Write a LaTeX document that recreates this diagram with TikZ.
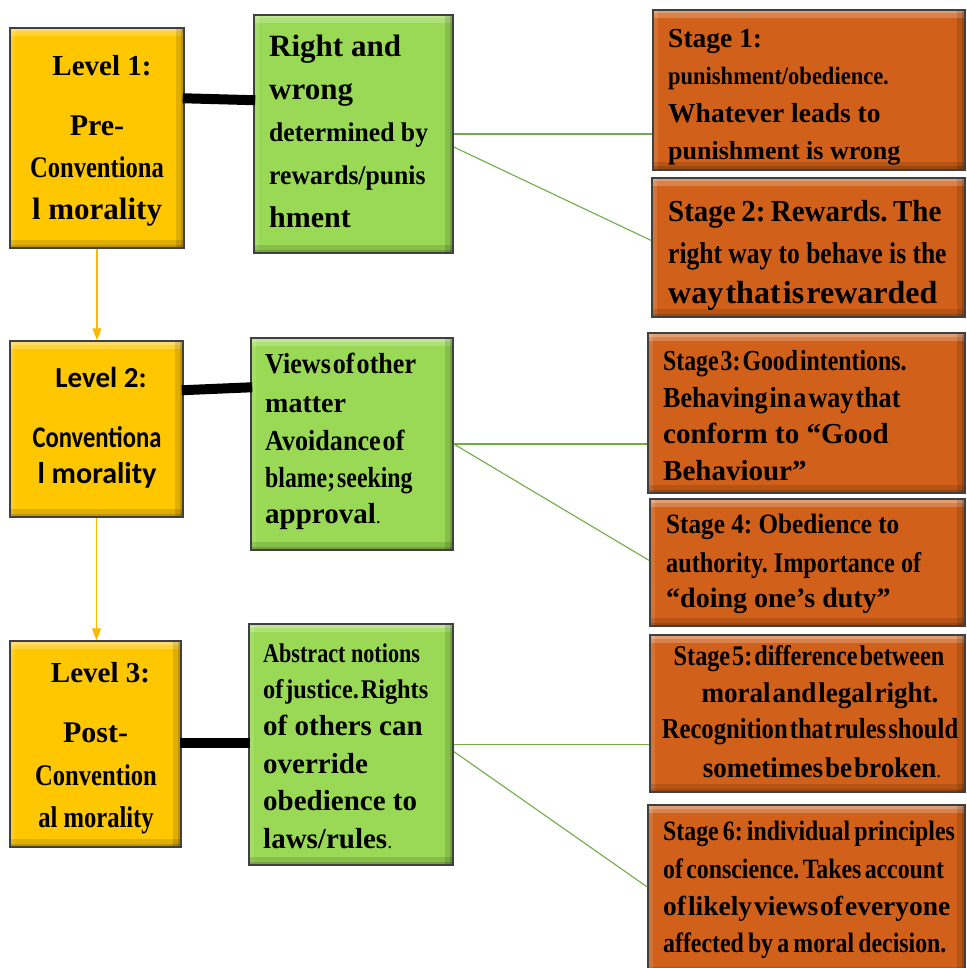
\documentclass[tikz,border=0pt]{standalone}
\usepackage{fontspec}
\setmainfont{Liberation Serif}
\newfontfamily\TBn{Liberation Serif}
\newfontfamily\TBa{Liberation Serif}[FakeStretch=0.95]
\newfontfamily\TBb{Liberation Serif}[FakeStretch=0.9]
\newfontfamily\TBcc{Liberation Serif}[FakeStretch=0.85]
\newfontfamily\TBd{Liberation Serif}[FakeStretch=0.82]
\newfontfamily\CBn{Carlito}
\newfontfamily\CBd{Carlito}[FakeStretch=0.82]
\newcommand\fnt[2]{#1\bfseries\fontsize{#2}{#2}\selectfont\frenchspacing}
\newcommand\tight[1][0.07em]{\spaceskip=#1\relax}
\newcommand\smalldot{{\mdseries\fontsize{20}{20}\selectfont.}}
\usetikzlibrary{calc,arrows.meta}
\definecolor{lvl}{HTML}{FFC700}
\definecolor{grn}{HTML}{99D955}
\definecolor{org}{HTML}{D0601A}
\definecolor{edge}{HTML}{404040}
\definecolor{arr}{HTML}{FBBA00}
\definecolor{gln}{HTML}{70AD47}
\begin{document}
\begin{tikzpicture}[x=1pt,y=-1pt,
  bevel/.style={draw=edge, line width=1.5pt, inner sep=0pt, path picture={
    \fill[white,opacity=0.22] (path picture bounding box.north west) rectangle ([yshift=-8pt]path picture bounding box.north east);
    \fill[white,opacity=0.22] (path picture bounding box.north west) rectangle ([yshift=-3.5pt]path picture bounding box.north east);
    \fill[white,opacity=0.12] (path picture bounding box.north west) rectangle ([xshift=5pt]path picture bounding box.south west);
    \fill[black,opacity=0.12] (path picture bounding box.south west) rectangle ([yshift=8pt]path picture bounding box.south east);
    \fill[black,opacity=0.15] (path picture bounding box.south west) rectangle ([yshift=3.5pt]path picture bounding box.south east);
    \fill[black,opacity=0.12] (path picture bounding box.north east) rectangle ([xshift=-8pt]path picture bounding box.south east);
    \fill[black,opacity=0.15] (path picture bounding box.north east) rectangle ([xshift=-3.5pt]path picture bounding box.south east);
  }},
  lt/.style={anchor=base west, inner sep=0pt},
  ct/.style={anchor=base, inner sep=0pt},
  thickc/.style={line width=10pt, black},
  arrc/.style={draw=arr, line width=1.3pt, -{Triangle[width=9pt,length=12pt]}},
  gl/.style={draw=gln, line width=1.1pt}]
\fill[white] (0,0) rectangle (966,968);
\useasboundingbox (0,0) rectangle (966,968);

% ---------- boxes ----------
\node[bevel, fill=lvl, minimum width=174pt, minimum height=220pt] (L1) at (97,138) {};
\node[bevel, fill=grn, minimum width=199pt, minimum height=238pt] (G1) at (353.5,134) {};
\node[bevel, fill=org, minimum width=312pt, minimum height=160pt] (S1) at (809,90) {};
\node[bevel, fill=org, minimum width=313pt, minimum height=139pt] (S2) at (808.5,247.5) {};

\node[bevel, fill=lvl, minimum width=173pt, minimum height=176pt] (L2) at (96.5,429) {};
\node[bevel, fill=grn, minimum width=202pt, minimum height=212pt] (G2) at (352,444) {};
\node[bevel, fill=org, minimum width=317pt, minimum height=160pt] (S3) at (806.5,413) {};
\node[bevel, fill=org, minimum width=315pt, minimum height=127pt] (S4) at (807.5,562.5) {};

\node[bevel, fill=lvl, minimum width=171pt, minimum height=206pt] (L3) at (95.5,744) {};
\node[bevel, fill=grn, minimum width=204pt, minimum height=241pt] (G3) at (351,744.5) {};
\node[bevel, fill=org, minimum width=315pt, minimum height=157pt] (S5) at (807.5,713.5) {};
\node[bevel, fill=org, minimum width=317pt, minimum height=170pt] (S6) at (806.5,890) {};

% ---------- connectors ----------
\draw[thickc] ($(L1.north east)+(-2,71)$) -- ($(G1.north west)+(2,86)$);
\draw[thickc] ($(L2.north east)+(-2,50)$) -- ($(G2.north west)+(2,50)$);
\draw[thickc] ($(L3.north east)+(-2,103)$) -- ($(G3.north west)+(2,120)$);

\draw[arrc] (L1.south) -- (L1.south |- L2.north);
\draw[arrc] (L2.south) -- (L2.south |- L3.north);

\draw[gl] (G1.east) -- (G1.east -| S1.west);
\draw[gl] ($(G1.east)+(0,13)$) -- ($(S2.west)+(0,-7)$);
\draw[gl] (G2.east) -- (G2.east -| S3.west);
\draw[gl] (G2.east) -- ($(S4.west)+(0,-2)$);
\draw[gl] (G3.east) -- (G3.east -| S5.west);
\draw[gl] ($(G3.east)+(0,7)$) -- ($(S6.west)+(0,-3)$);

% ---------- Level 1 ----------
\node[ct] (L1a) at (102,76) {\fnt\TBn{29}Level 1:};
\node[ct] (L1b) at (97,136) {\fnt\TBn{30}Pre-};
\node[ct] (L1c) at (97,178) {\fnt\TBd{30}Conventiona};
\node[ct] (L1d) at (97,220) {\fnt\TBn{31}l morality};

% ---------- Green 1 ----------
\node[lt] (G1a) at (269,57) {\fnt\TBn{31}Right and};
\node[lt] (G1b) at (269,100) {\fnt\TBn{31}wrong};
\node[lt] (G1c) at (269,142) {\fnt\TBa{27}determined by};
\node[lt] (G1d) at (269,185) {\fnt\TBa{27}rewards/punis};
\node[lt] (G1e) at (269,228) {\fnt\TBn{30}hment};

% ---------- Stage 1 ----------
\node[lt] (S1a) at (668,48) {\fnt\TBn{27.5}Stage 1:};
\node[lt] (S1b) at (668,85) {\fnt\TBb{25}punishment/obedience.};
\node[lt] (S1c) at (668,123) {\fnt\TBn{27.5}Whatever leads to};
\node[lt] (S1d) at (668,160) {\fnt\TBn{26}punishment is wrong};

% ---------- Stage 2 ----------
\node[lt] (S2a) at (668,222) {\fnt\TBa{30.5}\tight[0.18em]Stage 2: Rewards. The};
\node[lt] (S2b) at (668,263) {\fnt\TBcc{30}right way to behave is the};
\node[lt] (S2c) at (668,303) {\fnt\TBn{32}\tight way that is rewarded};

% ---------- Level 2 ----------
\node[ct] (L2a) at (101,387) {\fnt\CBn{29}Level 2:};
\node[ct] (L2b) at (97,447) {\fnt\CBd{30}Conventiona};
\node[ct] (L2c) at (97,483) {\fnt\CBn{30}l morality};

% ---------- Green 2 ----------
\node[lt] (G2a) at (265,373) {\fnt\TBb{29}\tight Views of other};
\node[lt] (G2b) at (265,412) {\fnt\TBn{28}matter};
\node[lt] (G2c) at (265,450) {\fnt\TBb{29}\tight Avoidance of};
\node[lt] (G2d) at (265,487) {\fnt\TBd{29}\tight blame; seeking};
\node[lt] (G2e) at (265,523) {\fnt\TBn{29}approval\smalldot};

% ---------- Stage 3 ----------
\node[lt] (S3a) at (663,370) {\fnt\TBd{29}\tight Stage 3: Good intentions.};
\node[lt] (S3b) at (663,407) {\fnt\TBb{29}\tight Behaving in a way that};
\node[lt] (S3c) at (663,443) {\fnt\TBn{29}conform to “Good};
\node[lt] (S3d) at (663,480) {\fnt\TBn{29}Behaviour”};

% ---------- Stage 4 ----------
\node[lt] (S4a) at (666,533) {\fnt\TBb{28}Stage 4: Obedience to};
\node[lt] (S4b) at (666,572) {\fnt\TBcc{28.5}authority. Importance of};
\node[lt] (S4c) at (666,607) {\fnt\TBn{28}“doing one’s duty”};

% ---------- Level 3 ----------
\node[ct] (L3a) at (100.5,682) {\fnt\TBn{29}Level 3:};
\node[ct] (L3b) at (95.5,742) {\fnt\TBn{30}Post-};
\node[ct] (L3c) at (96,785) {\fnt\TBd{30}Convention};
\node[ct] (L3d) at (96,827) {\fnt\TBd{30}al morality};

% ---------- Green 3 ----------
\node[lt] (G3a) at (263,662) {\fnt\TBd{27}Abstract notions};
\node[lt] (G3b) at (263,698) {\fnt\TBb{27}\tight of justice. Rights};
\node[lt] (G3c) at (263,735) {\fnt\TBn{29}of others can};
\node[lt] (G3d) at (263,773) {\fnt\TBn{29}override};
\node[lt] (G3e) at (263,810) {\fnt\TBn{29}obedience to};
\node[lt] (G3f) at (263,848) {\fnt\TBn{29}laws/rules\smalldot};

% ---------- Stage 5 ----------
\node[ct] (S5a) at (809,665) {\fnt\TBcc{28.5}\tight Stage 5: difference between};
\node[ct] (S5b) at (820,702) {\fnt\TBa{28.5}\tight moral and legal right.};
\node[ct] (S5c) at (810,738) {\fnt\TBcc{29}\tight Recognition that rules should};
\node[ct] (S5d) at (822,777) {\fnt\TBa{28.5}\tight sometimes be broken\smalldot};

% ---------- Stage 6 ----------
\node[lt] (S6a) at (663,840) {\fnt\TBcc{28}\tight[0.15em]Stage 6: individual principles};
\node[lt] (S6b) at (663,878) {\fnt\TBcc{28}\tight[0.12em]of conscience. Takes account};
\node[lt] (S6c) at (663,915) {\fnt\TBn{27.5}\tight of likely views of everyone};
\node[lt] (S6d) at (663,952) {\fnt\TBcc{28}\tight[0.15em]affected by a moral decision.};
\end{tikzpicture}
\end{document}
